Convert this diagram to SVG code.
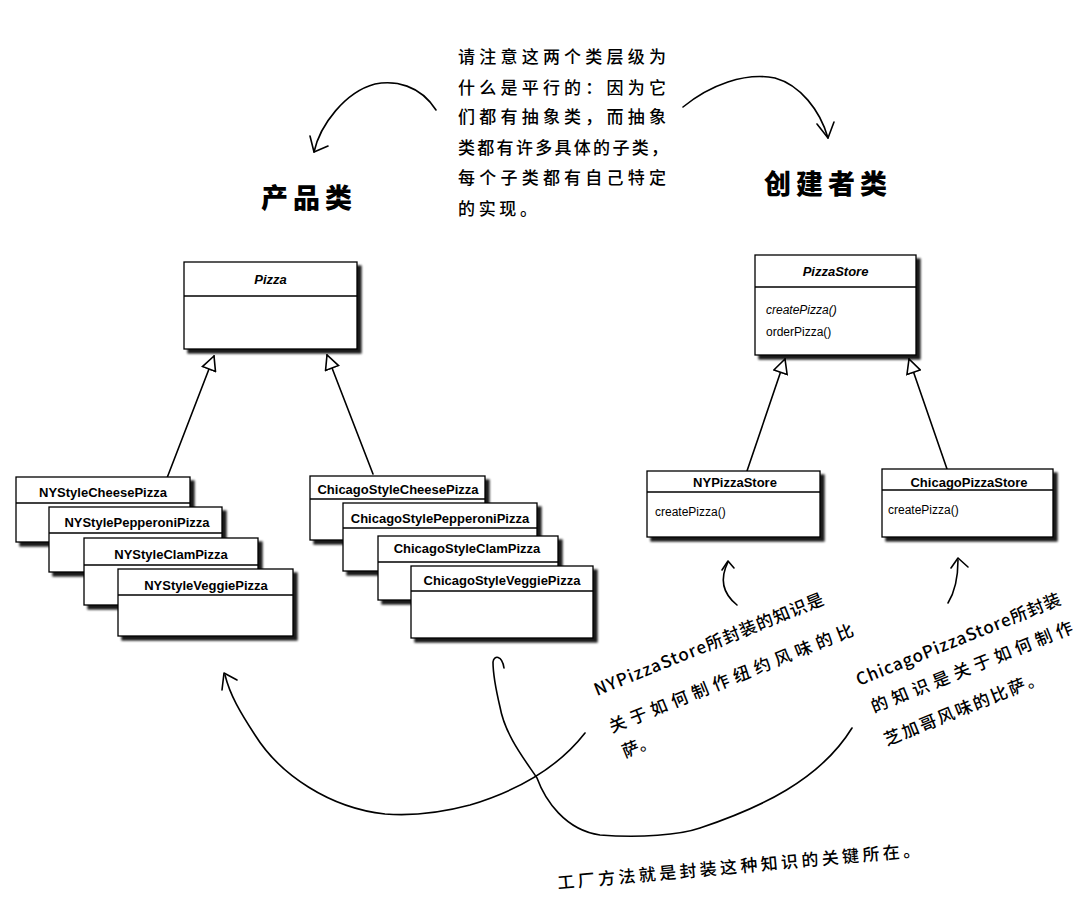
<svg xmlns="http://www.w3.org/2000/svg" width="1086" height="920" viewBox="0 0 1086 920">
<defs>
<filter id="sh" x="-10%" y="-10%" width="130%" height="140%">
<feOffset in="SourceAlpha" dx="4" dy="4" result="o"/>
<feGaussianBlur in="o" stdDeviation="0.9" result="b"/>
<feComponentTransfer in="b" result="s"><feFuncA type="linear" slope="0.9"/></feComponentTransfer>
<feMerge><feMergeNode in="s"/><feMergeNode in="SourceGraphic"/></feMerge>
</filter>
<marker id="tri" viewBox="0 0 16 16" refX="15" refY="8" markerWidth="16" markerHeight="16" markerUnits="userSpaceOnUse" orient="auto">
<path d="M15,8 L1,1 L1,15 Z" fill="#fff" stroke="#000" stroke-width="1.6" stroke-linejoin="miter"/>
</marker>
</defs>
<style>
.box{fill:#fff;stroke:#000;stroke-width:1.3;filter:url(#sh)}
.div{stroke:#000;stroke-width:1.3}
.cn{font-family:"Liberation Sans",Arial,sans-serif;font-weight:bold;font-size:13px;text-anchor:middle;fill:#000}
.it{font-style:italic}
.m{font-family:"Liberation Sans",Arial,sans-serif;font-size:12px;fill:#000}
.hw{font-family:"Noto Sans CJK SC",sans-serif;font-weight:500;font-size:17px;fill:#000}
.ttl{font-family:"Noto Sans CJK SC",sans-serif;font-weight:900;font-size:27px;fill:#000;text-anchor:middle;letter-spacing:5px}
.ln{fill:none;stroke:#000;stroke-width:1.6;stroke-linecap:round;stroke-linejoin:round}
</style>
<rect width="1086" height="920" fill="#fff"/>

<g id="note-top">
<text class="hw" x="458" y="63" font-size="18" textLength="208" lengthAdjust="spacing">请注意这两个类层级为</text>
<text class="hw" x="458" y="94" font-size="18" textLength="208" lengthAdjust="spacing">什么是平行的：因为它</text>
<text class="hw" x="458" y="123" font-size="18" textLength="208" lengthAdjust="spacing">们都有抽象类，而抽象</text>
<text class="hw" x="458" y="154" font-size="18" textLength="210" lengthAdjust="spacing">类都有许多具体的子类，</text>
<text class="hw" x="458" y="184" font-size="18" textLength="208" lengthAdjust="spacing">每个子类都有自己特定</text>
<text class="hw" x="458" y="215" font-size="18" textLength="79" lengthAdjust="spacing">的实现。</text>
</g>

<g id="title-product"><text class="ttl" x="309" y="208">产品类</text></g>
<g id="title-creator"><text class="ttl" x="828" y="194">创建者类</text></g>

<g id="connectors">
<path class="ln" d="M436,110 C420,85 395,80 375,84 C345,92 320,125 314,152"/>
<path class="ln" d="M310,136 L314,152 L328,146"/>
<path class="ln" d="M683,107 C710,85 745,72 775,78 C800,85 820,110 828,138"/>
<path class="ln" d="M817,124 L828,138 L834,122"/>
<line class="ln" x1="167" y1="478" x2="214" y2="356" marker-end="url(#tri)"/>
<line class="ln" x1="373" y1="474" x2="327" y2="355" marker-end="url(#tri)"/>
<line class="ln" x1="747" y1="471" x2="785" y2="359" marker-end="url(#tri)"/>
<line class="ln" x1="947" y1="469" x2="909" y2="359" marker-end="url(#tri)"/>
<path class="ln" d="M737,605 C722,593 720,578 728,562"/>
<path class="ln" d="M722,570 L728,561 L734,568"/>
<path class="ln" d="M948,603 C956,590 958,575 958,560"/>
<path class="ln" d="M951,568 L958,558 L968,567"/>
<path class="ln" d="M585,733 C560,765 520,790 470,805 C440,813 410,816 385,814 C330,808 280,775 255,735 C240,712 230,695 225,675"/>
<path class="ln" d="M222,690 L224,673 L237,680"/>
<path class="ln" d="M852,728 C820,780 760,808 700,828 C680,835 640,838 600,835 C565,830 545,800 537,778 C525,760 505,735 500,707 C496,690 493,675 493,662 C494,655 502,655 504,668"/>
</g>

<g id="pizza">
<rect class="box" x="184" y="262" width="173" height="87"/>
<line class="div" x1="184" y1="296" x2="357" y2="296"/>
<text class="cn it" x="270.5" y="284">Pizza</text>
</g>

<g id="pizzastore">
<rect class="box" x="755" y="255" width="161" height="100"/>
<line class="div" x1="755" y1="287" x2="916" y2="287"/>
<text class="cn it" x="835.5" y="276">PizzaStore</text>
<text class="m it" x="766" y="314">createPizza()</text>
<text class="m" x="766" y="336">orderPizza()</text>
</g>

<g id="nystyle-cheese">
<rect class="box" x="16" y="477" width="174" height="65"/>
<line class="div" x1="16" y1="503" x2="190" y2="503"/>
<text class="cn" x="103" y="497">NYStyleCheesePizza</text>
</g>
<g id="nystyle-pepperoni">
<rect class="box" x="49" y="507" width="173" height="65"/>
<line class="div" x1="49" y1="533" x2="222" y2="533"/>
<text class="cn" x="137" y="527">NYStylePepperoniPizza</text>
</g>
<g id="nystyle-clam">
<rect class="box" x="84" y="538" width="174" height="67"/>
<line class="div" x1="84" y1="565" x2="258" y2="565"/>
<text class="cn" x="171" y="559">NYStyleClamPizza</text>
</g>
<g id="nystyle-veggie">
<rect class="box" x="118" y="569" width="175" height="67"/>
<line class="div" x1="118" y1="595" x2="293" y2="595"/>
<text class="cn" x="206" y="590">NYStyleVeggiePizza</text>
</g>

<g id="chicagostyle-cheese">
<rect class="box" x="310" y="476" width="175" height="64"/>
<line class="div" x1="310" y1="499" x2="485" y2="499"/>
<text class="cn" x="398" y="494">ChicagoStyleCheesePizza</text>
</g>
<g id="chicagostyle-pepperoni">
<rect class="box" x="343" y="503" width="194" height="68"/>
<line class="div" x1="343" y1="528" x2="537" y2="528"/>
<text class="cn" x="440" y="523">ChicagoStylePepperoniPizza</text>
</g>
<g id="chicagostyle-clam">
<rect class="box" x="378" y="536" width="180" height="64"/>
<line class="div" x1="378" y1="562" x2="558" y2="562"/>
<text class="cn" x="467" y="553">ChicagoStyleClamPizza</text>
</g>
<g id="chicagostyle-veggie">
<rect class="box" x="411" y="566" width="182" height="72"/>
<line class="div" x1="411" y1="591" x2="593" y2="591"/>
<text class="cn" x="502" y="585">ChicagoStyleVeggiePizza</text>
</g>

<g id="nypizzastore">
<rect class="box" x="647" y="471" width="173" height="66"/>
<line class="div" x1="647" y1="492" x2="820" y2="492"/>
<text class="cn" x="735" y="487">NYPizzaStore</text>
<text class="m" x="655" y="516">createPizza()</text>
</g>
<g id="chicagopizzastore">
<rect class="box" x="882" y="469" width="171" height="68"/>
<line class="div" x1="882" y1="490" x2="1053" y2="490"/>
<text class="cn" x="969" y="487">ChicagoPizzaStore</text>
<text class="m" x="888" y="514">createPizza()</text>
</g>

<g id="note-ny">
<text class="hw" transform="translate(597,696) rotate(-22)" textLength="246" lengthAdjust="spacing">NYPizzaStore所封装的知识是</text>
<text class="hw" transform="translate(612,733) rotate(-22)" textLength="262" lengthAdjust="spacing">关于如何制作纽约风味的比</text>
<text class="hw" transform="translate(625,758) rotate(-22)">萨。</text>
</g>
<g id="note-chicago">
<text class="hw" transform="translate(859,686) rotate(-22)" textLength="219" lengthAdjust="spacing">ChicagoPizzaStore所封装</text>
<text class="hw" transform="translate(874,713) rotate(-22)" textLength="216" lengthAdjust="spacing">的知识是关于如何制作</text>
<text class="hw" transform="translate(887,746) rotate(-22)" textLength="170" lengthAdjust="spacing">芝加哥风味的比萨。</text>
</g>
<g id="note-bottom">
<text class="hw" font-size="18" transform="translate(558,889) rotate(-5.2)" textLength="364" lengthAdjust="spacing">工厂方法就是封装这种知识的关键所在。</text>
</g>
</svg>
